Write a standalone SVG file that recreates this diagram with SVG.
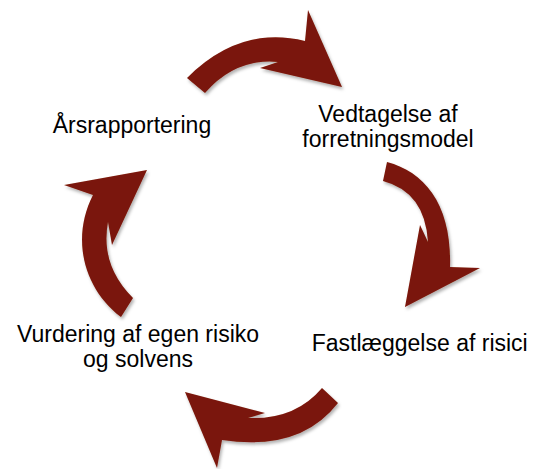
<svg xmlns="http://www.w3.org/2000/svg" width="537" height="469" viewBox="0 0 537 469">
<style>
.arrow{fill:#7a1608;filter:url(#sh);}
.lbl{font-family:"Liberation Sans",Arial,sans-serif;font-size:23px;fill:#000;}
</style>
<defs>
<filter id="sh" x="-20%" y="-20%" width="140%" height="140%">
<feDropShadow dx="1.5" dy="2.5" stdDeviation="1.8" flood-color="#000" flood-opacity="0.3"/>
</filter>
</defs>
<rect width="537" height="469" fill="#fff"/>
<g id="connectors">
<path id="arrow-top" class="arrow" d="M187,78 Q240,25 305,41 L308,10 L342,87 L260,68 L278,62 Q235,58 205,93 Z"/>
<path id="arrow-right" class="arrow" d="M387,162 C425,172 452,205 450,267 L480,268 L405,307 L420,225 L428,242 Q425,192 383,181 Z"/>
<path id="arrow-bottom" class="arrow" d="M338,403 Q300,452 222,440 L217,468 L185,392 L265,413 L248,418 Q295,420 322,388 Z"/>
<path id="arrow-left" class="arrow" d="M121,317 C85,290 70,240 93,195 L64,185 L147,170 L112,245 L108,222 Q100,265 133,298 Z"/>
</g>
<g id="node-aarsrapportering">
<text class="lbl" x="52.7" y="133">Årsrapportering</text>
</g>
<g id="node-vedtagelse">
<text class="lbl" x="388" y="122" text-anchor="middle">Vedtagelse af</text>
<text class="lbl" x="388" y="147" text-anchor="middle">forretningsmodel</text>
</g>
<g id="node-fastlaeggelse">
<text class="lbl" x="311.7" y="351">Fastlæggelse af risici</text>
</g>
<g id="node-vurdering">
<text class="lbl" x="138" y="342" text-anchor="middle">Vurdering af egen risiko</text>
<text class="lbl" x="138" y="367" text-anchor="middle">og solvens</text>
</g>
</svg>
